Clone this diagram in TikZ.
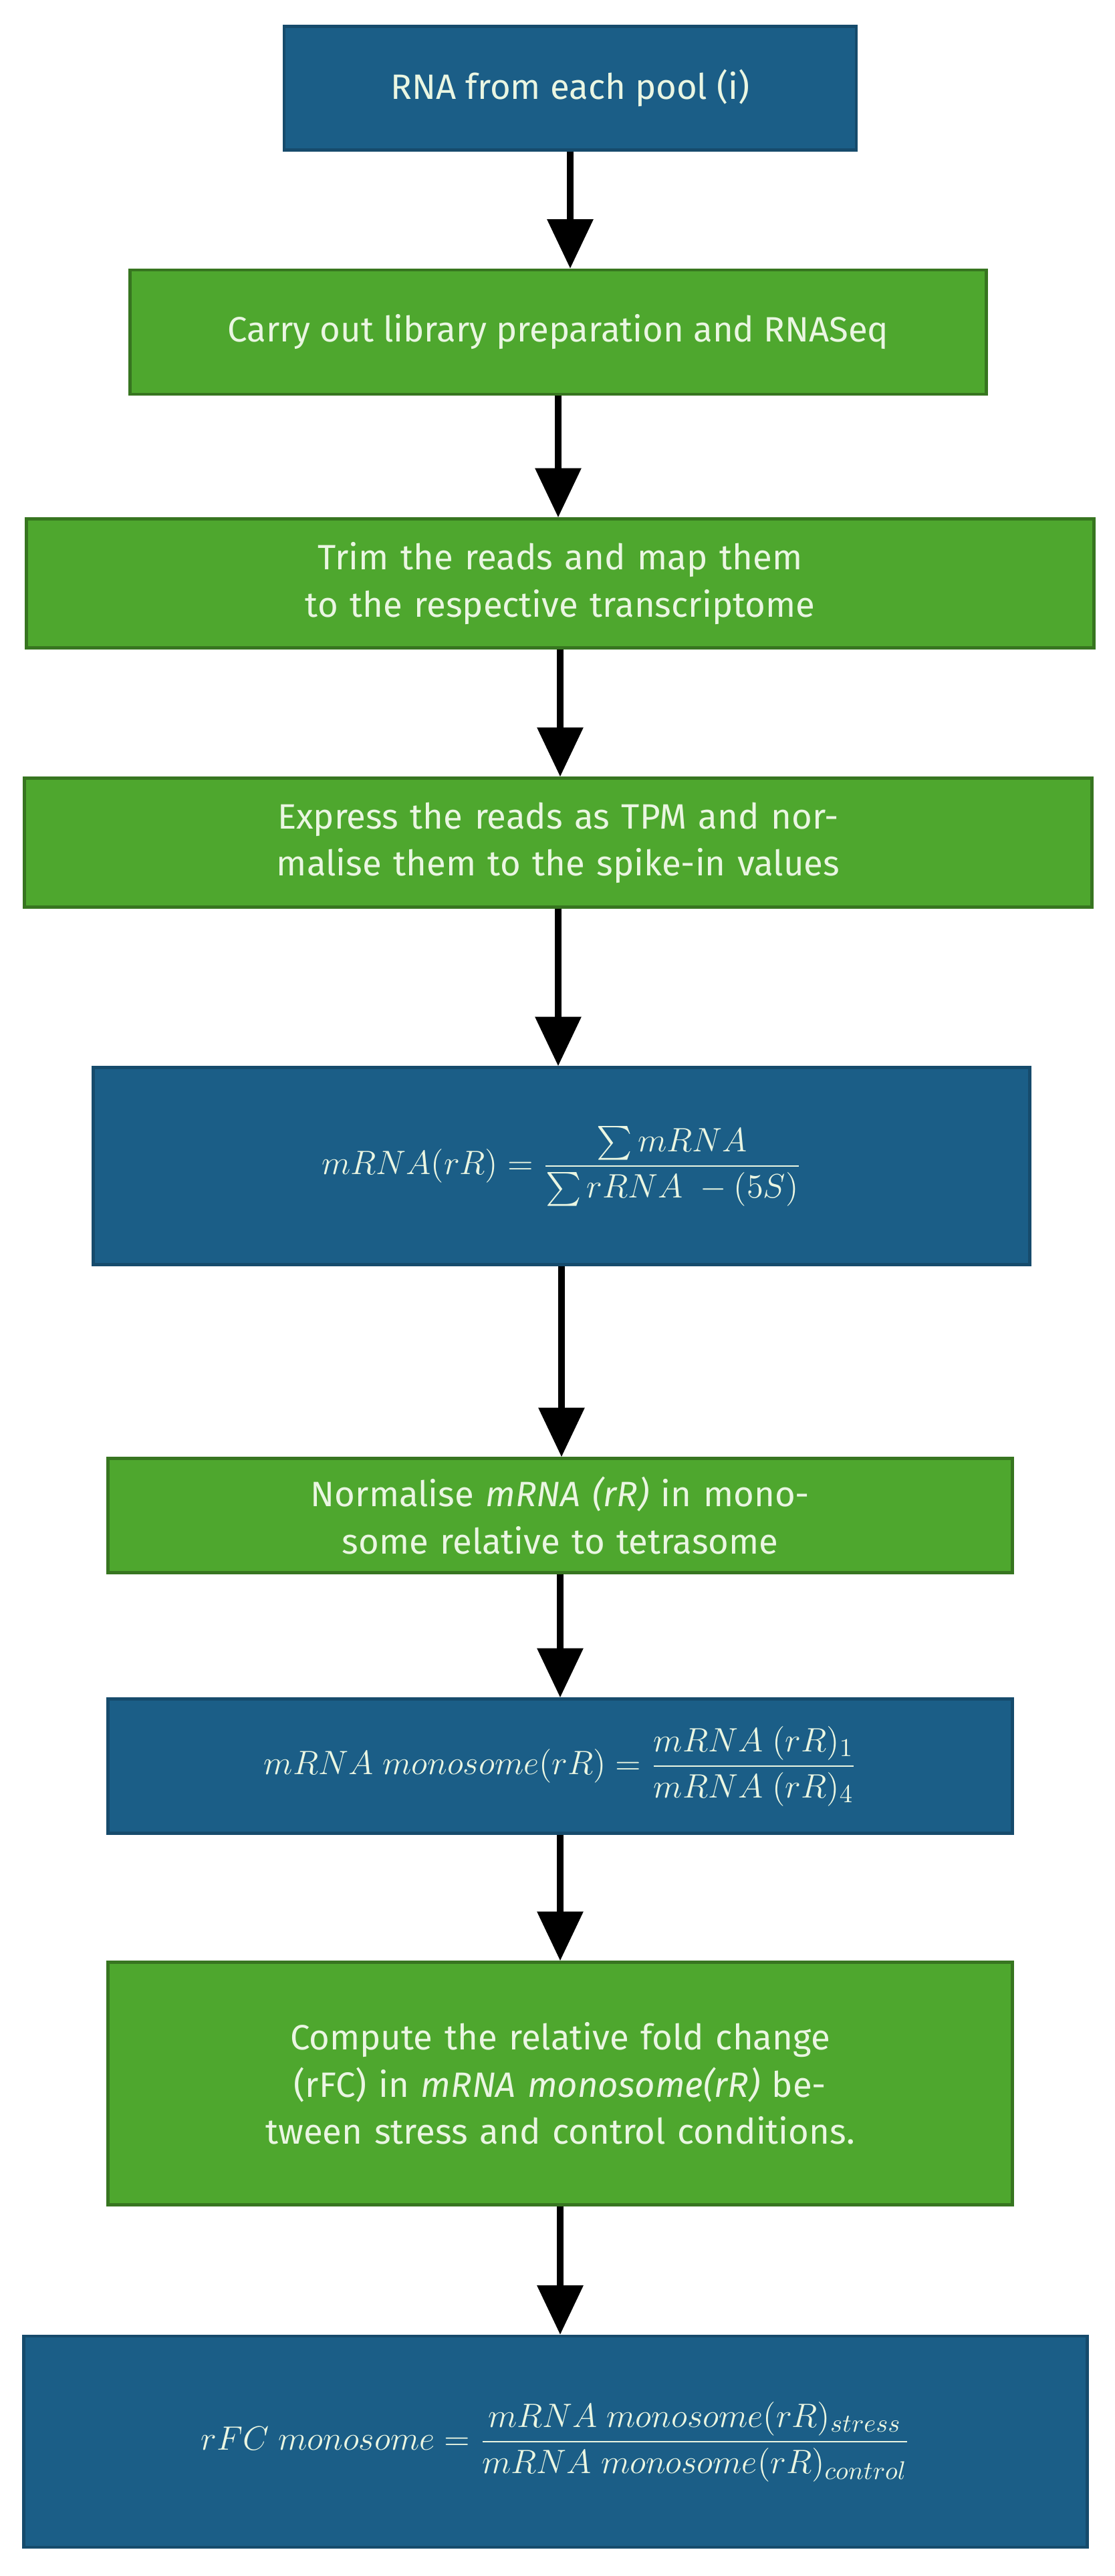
\documentclass[tikz,border=0pt]{standalone}
\usepackage{fontspec}
\setmainfont{Fira Sans}
\usepackage{amsmath}
\usetikzlibrary{arrows.meta}
\definecolor{stepblue}{HTML}{1B5E87}
\definecolor{stepgreen}{HTML}{4EA72E}
\definecolor{steptext}{HTML}{EAF6E2}
\tikzset{
  box/.style={draw, line width=1.2pt, text=steptext, align=center, inner sep=0pt,
    font=\fontsize{15}{20}\selectfont},
  bluebox/.style={box, fill=stepblue, draw=stepblue!80!black},
  greenbox/.style={box, fill=stepgreen, draw=stepgreen!70!black},
  flow/.style={line width=3pt, -{Triangle[width=19pt,length=21pt]}}
}
\begin{document}
\begin{tikzpicture}
    \useasboundingbox (0,0) rectangle (16.67,-38.55);

    % steps
    \node[bluebox, minimum width=8.56cm, minimum height=1.85cm] (pool) at (8.53,-1.32) {RNA from each pool (i)};
    \node[greenbox, minimum width=12.81cm, minimum height=1.86cm] (libprep) at (8.35,-4.97) {Carry out library preparation and RNASeq};
    \node[greenbox, minimum width=15.97cm, minimum height=1.93cm, text width=12.8cm] (trim) at (8.38,-8.73) {Trim the reads and map them to the respective transcriptome};
    \node[greenbox, minimum width=15.97cm, minimum height=1.93cm, text width=14cm] (tpm) at (8.35,-12.61) {Express the reads as TPM and normalise them to the spike-in values};
    \node[bluebox, minimum width=14.01cm, minimum height=2.95cm] (ratio) at (8.40,-17.45)
        {$\displaystyle mRNA(rR)=\frac{\sum mRNA}{\sum rRNA\;-(5S)}$};
    \node[greenbox, minimum width=13.53cm, minimum height=1.71cm, text width=12.2cm] (norm) at (8.38,-22.68)
        {Normalise \textit{mRNA (rR)} in monosome relative to tetrasome};
    \node[bluebox, minimum width=13.53cm, minimum height=2.01cm] (mono) at (8.38,-26.43)
        {$\displaystyle mRNA\ monosome(rR)=\frac{mRNA\ (rR)_1}{mRNA\ (rR)_4}$};
    \node[greenbox, minimum width=13.53cm, minimum height=3.63cm, text width=11.4cm] (rfc) at (8.38,-31.18)
        {Compute the relative fold change (rFC) in \textit{mRNA monosome(rR)} between stress and control conditions.};
    \node[bluebox, minimum width=15.91cm, minimum height=3.16cm] (final) at (8.31,-36.54)
        {$\displaystyle rFC\ monosome=\frac{mRNA\ monosome(rR)_{stress}}{mRNA\ monosome(rR)_{control}}$};

    % arrows
    \draw[flow] (pool.south) -- (pool.south |- libprep.north);
    \draw[flow] (libprep.south) -- (libprep.south |- trim.north);
    \draw[flow] (trim.south) -- (trim.south |- tpm.north);
    \draw[flow] (tpm.south) -- (tpm.south |- ratio.north);
    \draw[flow] (ratio.south) -- (ratio.south |- norm.north);
    \draw[flow] (norm.south) -- (norm.south |- mono.north);
    \draw[flow] (mono.south) -- (mono.south |- rfc.north);
    \draw[flow] (rfc.south) -- (rfc.south |- final.north);
\end{tikzpicture}
\end{document}
